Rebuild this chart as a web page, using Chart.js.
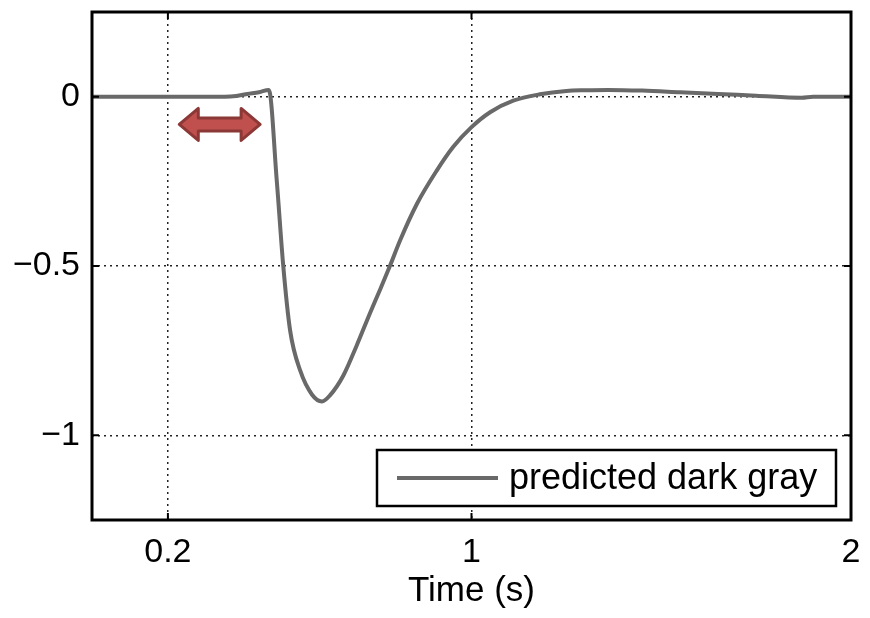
<!DOCTYPE html>
<html lang="en">
<head>
  <meta charset="UTF-8" />
  <title>Predicted response</title>
  <script src="https://cdn.jsdelivr.net/npm/chart.js"></script>
  <style>
    body { margin: 0; background: #fff; }
    #wrap { width: 870px; height: 618px; }
  </style>
</head>
<body>
  <div id="wrap"><canvas id="respChart" width="870" height="618"></canvas></div>

  <script>
    // response curve, time in seconds
    const times = [0, 0.35, 0.38, 0.41, 0.44, 0.466, 0.487, 0.504, 0.522, 0.549, 0.58, 0.606,
      0.627, 0.662, 0.697, 0.733, 0.759, 0.785, 0.812, 0.856, 0.908, 0.952, 1.0, 1.049,
      1.11, 1.18, 1.25, 1.3, 1.36, 1.45, 1.55, 1.65, 1.75, 1.87, 1.9, 2.0];
    const predicted = [0, 0, 0.002, 0.008, 0.013, 0.02, -0.25, -0.5, -0.69, -0.81, -0.88, -0.9,
      -0.882, -0.824, -0.736, -0.638, -0.57, -0.5, -0.424, -0.317, -0.219, -0.148, -0.09, -0.046,
      -0.012, 0.007, 0.017, 0.019, 0.02, 0.018, 0.013, 0.008, 0.003, -0.003, 0, 0];
    const xTicks = [0.2, 1, 2];
    const yTicks = [0, -0.5, -1];
    // delay marker (start/end time, level)
    const arrowSpan = [0.23, 0.443];
    const arrowLevel = -0.082;

    const FONT = 'Liberation Sans, Arial, sans-serif';

    const boxPlugin = {
      id: 'boxAndTicks',
      afterDatasetsDraw(chart) {
        const { ctx, chartArea: a, scales } = chart;
        ctx.save();
        // inward tick marks
        ctx.strokeStyle = '#000';
        ctx.lineWidth = 2;
        ctx.beginPath();
        xTicks.forEach(v => {
          const px = scales.x.getPixelForValue(v);
          ctx.moveTo(px, a.bottom); ctx.lineTo(px, a.bottom - 7);
          ctx.moveTo(px, a.top); ctx.lineTo(px, a.top + 7);
        });
        yTicks.forEach(v => {
          const py = scales.y.getPixelForValue(v);
          ctx.moveTo(a.left, py); ctx.lineTo(a.left + 7, py);
          ctx.moveTo(a.right, py); ctx.lineTo(a.right - 7, py);
        });
        ctx.stroke();
        ctx.lineWidth = 3;
        ctx.strokeRect(a.left, a.top, a.right - a.left, a.bottom - a.top);
        ctx.restore();
      }
    };

    const arrowPlugin = {
      id: 'delayArrow',
      afterDatasetsDraw(chart) {
        const { ctx, scales } = chart;
        const x0 = scales.x.getPixelForValue(arrowSpan[0]);
        const x1 = scales.x.getPixelForValue(arrowSpan[1]);
        const y = scales.y.getPixelForValue(arrowLevel);
        const head = 19, hh = 16, sh = 6.5;
        ctx.save();
        ctx.beginPath();
        ctx.moveTo(x0, y);
        ctx.lineTo(x0 + head, y - hh);
        ctx.lineTo(x0 + head, y - sh);
        ctx.lineTo(x1 - head, y - sh);
        ctx.lineTo(x1 - head, y - hh);
        ctx.lineTo(x1, y);
        ctx.lineTo(x1 - head, y + hh);
        ctx.lineTo(x1 - head, y + sh);
        ctx.lineTo(x0 + head, y + sh);
        ctx.lineTo(x0 + head, y + hh);
        ctx.closePath();
        ctx.fillStyle = '#c0504d';
        ctx.fill();
        ctx.lineJoin = 'round';
        ctx.lineWidth = 3;
        ctx.strokeStyle = '#8c3836';
        ctx.stroke();
        ctx.restore();
      }
    };

    const legendPlugin = {
      id: 'boxLegend',
      afterDraw(chart) {
        const { ctx, chartArea: a } = chart;
        const ds = chart.data.datasets[0];
        const w = 459, h = 56;
        const bx = a.right - 15 - w, by = a.bottom - 14 - h;
        ctx.save();
        ctx.fillStyle = '#fff';
        ctx.fillRect(bx, by, w, h);
        ctx.strokeStyle = '#000';
        ctx.lineWidth = 2.5;
        ctx.strokeRect(bx, by, w, h);
        ctx.strokeStyle = ds.borderColor;
        ctx.lineWidth = ds.borderWidth;
        ctx.beginPath();
        ctx.moveTo(bx + 20, by + h / 2);
        ctx.lineTo(bx + 121, by + h / 2);
        ctx.stroke();
        ctx.fillStyle = '#000';
        ctx.font = '36px ' + FONT;
        ctx.textBaseline = 'middle';
        ctx.fillText(ds.label, bx + 132, by + h / 2 + 1);
        ctx.restore();
      }
    };

    // tick text with a proper minus sign
    const fmt = v => String(v).replace('-', '\u2212');

    new Chart(document.getElementById('respChart'), {
      type: 'line',
      data: {
        datasets: [{
          label: 'predicted dark gray',
          data: times.map((t, i) => ({ x: t, y: predicted[i] })),
          borderColor: '#696969',
          borderWidth: 4,
          pointRadius: 0,
          cubicInterpolationMode: 'monotone',
          fill: false
        }]
      },
      options: {
        responsive: false,
        animation: false,
        layout: { padding: { left: 0, right: 19, top: 12, bottom: 0 } },
        plugins: { legend: { display: false }, tooltip: { enabled: false } },
        scales: {
          x: {
            type: 'linear',
            min: 0,
            max: 2,
            afterBuildTicks: s => { s.ticks = xTicks.map(v => ({ value: v })); },
            afterFit: s => { s.height = 98; s.paddingLeft = 0; s.paddingRight = 0; },
            ticks: {
              color: '#000',
              font: { family: FONT, size: 34 },
              padding: 12,
              maxRotation: 0,
              callback: fmt
            },
            grid: { color: '#222', lineWidth: 1.5, drawTicks: false, tickLength: 0 },
            border: { display: false, dash: [2, 4] },
            title: {
              display: true,
              text: 'Time (s)',
              color: '#000',
              font: { family: FONT, size: 35 },
              padding: { top: 2, bottom: 6 }
            }
          },
          y: {
            min: -1.25,
            max: 0.25,
            afterBuildTicks: s => { s.ticks = yTicks.map(v => ({ value: v })); },
            afterFit: s => { s.width = 92; s.paddingTop = 0; s.paddingBottom = 0; },
            ticks: {
              color: '#000',
              font: { family: FONT, size: 34 },
              padding: 12,
              callback: fmt
            },
            grid: { color: '#222', lineWidth: 1.5, drawTicks: false, tickLength: 0 },
            border: { display: false, dash: [2, 4] }
          }
        }
      },
      plugins: [boxPlugin, arrowPlugin, legendPlugin]
    });
  </script>
</body>
</html>
